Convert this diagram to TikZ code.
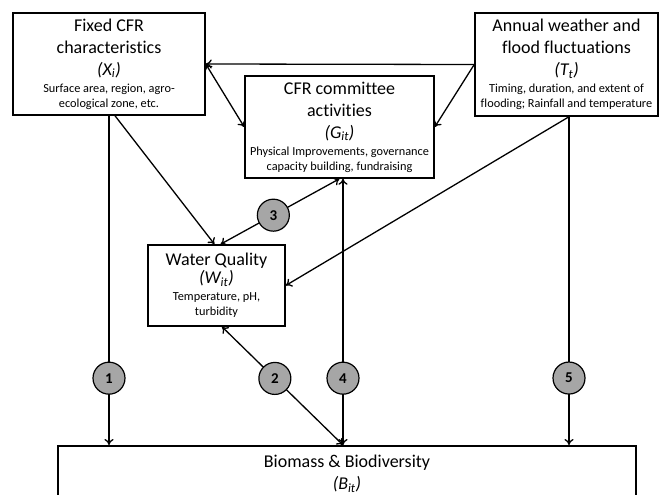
\documentclass[tikz,border=0pt]{standalone}
\usepackage{fontspec}
\setmainfont{Carlito}[Ligatures={NoCommon}]
\usetikzlibrary{arrows.meta}
\newcommand{\tfnt}{\fontsize{18}{22}\selectfont}
\newcommand{\smfnt}{\fontsize{12.3}{15}\selectfont}
\newcommand{\vsb}[2]{\textit{(#1\textsubscript{#2})}}
\definecolor{cgray}{RGB}{166,166,166}
\tikzset{
  box/.style={draw, line width=1.5pt, inner sep=0pt, align=center, font=\tfnt},
  conn/.style={line width=1.3pt, -{To[length=6pt,width=9pt]}},
  dconn/.style={line width=1.3pt, {To[length=6pt,width=9pt]}-{To[length=6pt,width=9pt]}},
  circ/.style={circle, draw, line width=1.2pt, fill=cgray, minimum size=32pt, inner sep=0pt, font=\bfseries\fontsize{15}{15}\selectfont}
}
\begin{document}
\begin{tikzpicture}[x=1pt, y=-1pt]
\useasboundingbox (0,0) rectangle (661,495);
\clip (0,0) rectangle (661,495);
% boxes
\node[box, minimum width=192pt, minimum height=102pt] (X) at (109,64)
  {Fixed CFR\\characteristics\\\vsb{X}{i}\\[-5pt]{\smfnt Surface area, region, agro-}\\[-7pt]{\smfnt ecological zone, etc.}};
\node[box, minimum width=183pt, minimum height=103pt] (T) at (566.5,64.5)
  {Annual weather and\\flood fluctuations\\\vsb{T}{t}\\[-5pt]{\smfnt Timing, duration, and extent of}\\[-7pt]{\smfnt flooding; Rainfall and temperature}};
\node[box, minimum width=189pt, minimum height=102pt] (G) at (339.5,127)
  {CFR committee\\activities\\\vsb{G}{it}\\[-5pt]{\smfnt Physical Improvements, governance}\\[-7pt]{\smfnt capacity building, fundraising}};
\node[box, minimum width=137pt, minimum height=81pt] (W) at (216.5,285.5)
  {Water Quality\\[-4pt]\vsb{W}{it}\\[-5pt]{\smfnt Temperature, pH,}\\[-7pt]{\smfnt turbidity}};
\node[box, anchor=north, minimum width=578pt, minimum height=56pt] (B) at (347,445)
  {Biomass \& Biodiversity\\\vsb{B}{it}};
% connectors
\draw[conn] (T.west) -- (X.east);
\draw[dconn] (X.east) -- (G.west);
\draw[conn] (T.west) -- (G.east);
\draw[conn] ([xshift=6pt]X.south) -- ([xshift=-2pt]W.north);
\draw[conn] ([xshift=2.5pt]T.south) -- (W.east);
\draw[dconn] (G.south) -- node[circ, pos=0.556] (c3) {3} ([xshift=4pt]W.north);
\draw[conn] (X.south) -- node[circ, pos=0.797] (c1) {1} (X.south |- B.north);
\draw[conn] ([xshift=2.5pt]T.south) -- node[circ, pos=0.796] (c5) {5} ([xshift=2.5pt]T.south |- B.north);
\draw[dconn] ([xshift=-4pt]B.north) -- node[circ, pos=0.251] (c4) {4} ([xshift=3.5pt]G.south);
\draw[dconn] ([xshift=-4pt]B.north) -- node[circ, pos=0.563] (c2) {2} ([xshift=5.5pt]W.south);
\end{tikzpicture}
\end{document}
